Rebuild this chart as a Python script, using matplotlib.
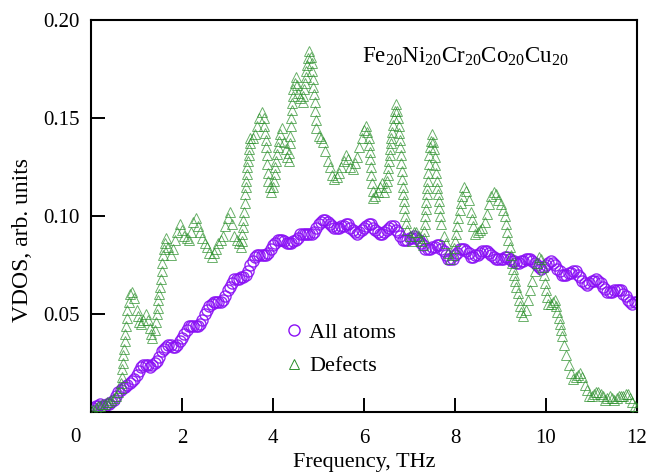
import numpy as np
import matplotlib
matplotlib.use("Agg")
import matplotlib.pyplot as plt

# ---------------- data ----------------
freq_step = 0.05
freq = np.round(np.arange(0, 12 + freq_step / 2, freq_step), 2)

all_atoms = [
    0.001, 0.002, 0.003, 0.003, 0.004, 0.003, 0.003, 0.004, 0.004, 0.005,
    0.006, 0.008, 0.010, 0.011, 0.012, 0.013, 0.014, 0.015, 0.016, 0.017,
    0.019, 0.021, 0.023, 0.024, 0.024, 0.024, 0.023, 0.024, 0.025, 0.026,
    0.028, 0.031, 0.032, 0.033, 0.034, 0.034, 0.033, 0.033, 0.034, 0.036,
    0.038, 0.040, 0.042, 0.044, 0.044, 0.044, 0.044, 0.044, 0.045, 0.047,
    0.050, 0.052, 0.054, 0.055, 0.056, 0.056, 0.056, 0.056, 0.057, 0.059,
    0.062, 0.064, 0.066, 0.068, 0.068, 0.068, 0.069, 0.069, 0.070, 0.072,
    0.075, 0.077, 0.079, 0.080, 0.080, 0.080, 0.080, 0.080, 0.081, 0.083,
    0.085, 0.086, 0.088, 0.088, 0.088, 0.087, 0.086, 0.086, 0.086, 0.087,
    0.088, 0.089, 0.091, 0.091, 0.091, 0.091, 0.091, 0.091, 0.092, 0.094,
    0.096, 0.097, 0.098, 0.098, 0.097, 0.096, 0.095, 0.094, 0.094, 0.094,
    0.095, 0.095, 0.096, 0.096, 0.094, 0.093, 0.092, 0.091, 0.092, 0.093,
    0.094, 0.095, 0.096, 0.096, 0.094, 0.093, 0.092, 0.091, 0.091, 0.092,
    0.093, 0.094, 0.095, 0.095, 0.093, 0.092, 0.090, 0.088, 0.088, 0.088,
    0.089, 0.089, 0.090, 0.089, 0.088, 0.086, 0.085, 0.083, 0.083, 0.083,
    0.084, 0.084, 0.085, 0.085, 0.083, 0.082, 0.080, 0.078, 0.078, 0.078,
    0.080, 0.081, 0.083, 0.083, 0.083, 0.082, 0.081, 0.079, 0.079, 0.080,
    0.080, 0.081, 0.082, 0.082, 0.082, 0.081, 0.080, 0.079, 0.078, 0.078,
    0.078, 0.078, 0.079, 0.079, 0.078, 0.077, 0.077, 0.076, 0.076, 0.077,
    0.077, 0.078, 0.078, 0.078, 0.077, 0.076, 0.075, 0.074, 0.073, 0.074,
    0.075, 0.076, 0.077, 0.076, 0.075, 0.073, 0.072, 0.070, 0.070, 0.070,
    0.071, 0.071, 0.072, 0.072, 0.070, 0.069, 0.067, 0.066, 0.065, 0.066,
    0.067, 0.067, 0.068, 0.067, 0.066, 0.064, 0.063, 0.061, 0.061, 0.061,
    0.062, 0.062, 0.062, 0.062, 0.060, 0.059, 0.057, 0.056, 0.055, 0.056,
    0.056,
]

# Defects on the regular 0.05 THz grid
defects = [
    0.001, 0.001, 0.002, 0.003, 0.003, 0.004, 0.004, 0.005, 0.005, 0.006,
    0.007, 0.008, 0.010, 0.012, 0.025, 0.040, 0.052, 0.060, 0.061, 0.058,
    0.052, 0.046, 0.045, 0.047, 0.050, 0.047, 0.043, 0.038, 0.042, 0.050,
    0.060, 0.072, 0.083, 0.089, 0.084, 0.080, 0.083, 0.088, 0.092, 0.096,
    0.093, 0.090, 0.089, 0.088, 0.092, 0.097, 0.099, 0.095, 0.092, 0.089,
    0.086, 0.084, 0.081, 0.079, 0.081, 0.083, 0.086, 0.088, 0.090, 0.095,
    0.099, 0.102, 0.096, 0.090, 0.088, 0.086, 0.084, 0.098, 0.115, 0.128,
    0.140, 0.140, 0.142, 0.146, 0.150, 0.153, 0.150, 0.135, 0.118, 0.112,
    0.115, 0.125, 0.135, 0.142, 0.145, 0.138, 0.130, 0.128, 0.150, 0.165,
    0.171, 0.163, 0.160, 0.158, 0.168, 0.177, 0.184, 0.178, 0.162, 0.145,
    0.141, 0.140, 0.138, 0.133, 0.128, 0.125, 0.121, 0.119, 0.120, 0.122,
    0.125, 0.128, 0.131, 0.129, 0.125, 0.124, 0.127, 0.130, 0.135, 0.140,
    0.144, 0.146, 0.140, 0.125, 0.109, 0.110, 0.112, 0.115, 0.117, 0.112,
    0.118, 0.128, 0.140, 0.150, 0.157, 0.150, 0.135, 0.115, 0.100, 0.093,
    0.090, 0.087, 0.092, 0.092, 0.090, 0.087, 0.085, 0.100, 0.118, 0.135,
    0.142, 0.130, 0.118, 0.104, 0.096, 0.090, 0.086, 0.081, 0.078, 0.080,
    0.087, 0.095, 0.103, 0.110, 0.115, 0.113, 0.108, 0.102, 0.095, 0.091,
    0.092, 0.093, 0.094, 0.097, 0.101, 0.106, 0.110, 0.112, 0.111, 0.108,
    0.106, 0.103, 0.100, 0.092, 0.084, 0.076, 0.070, 0.064, 0.057, 0.051,
    0.049, 0.052, 0.057, 0.062, 0.067, 0.072, 0.076, 0.079, 0.078, 0.070,
    0.062, 0.055, 0.055, 0.056, 0.057, 0.051, 0.045, 0.039, 0.034, 0.029,
    0.024, 0.020, 0.017, 0.018, 0.019, 0.020, 0.018, 0.014, 0.011, 0.008,
    0.008, 0.009, 0.010, 0.010, 0.009, 0.008, 0.006, 0.007, 0.008, 0.007,
    0.006, 0.007, 0.008, 0.008, 0.008, 0.009, 0.009, 0.007, 0.005, 0.003,
    0.002,
]

# Extra Defects points read along the steep flanks (columns of triangles)
flank_freq = [
    0.6625, 0.675, 0.6875, 0.7125, 0.725, 0.7375, 0.767, 0.783, 0.825,
    1.025, 1.325, 1.425, 1.467, 1.483, 1.517, 1.533, 1.567, 1.583, 1.625,
    3.3125, 3.325, 3.3375, 3.3625, 3.375, 3.3875, 3.4125, 3.425, 3.4375,
    3.4625, 3.475, 3.4875, 3.8125, 3.825, 3.8375, 3.8625, 3.875, 3.8875, 3.925,
    4.017, 4.033, 4.067, 4.083, 4.125, 4.275, 4.36, 4.37, 4.38, 4.39,
    4.4125, 4.425, 4.4375, 4.475, 4.525, 4.667, 4.683, 4.717, 4.733, 4.775,
    4.825, 4.8625, 4.875, 4.8875, 4.9125, 4.925, 4.9375,
    6.075, 6.1125, 6.125, 6.1375, 6.1625, 6.175, 6.1875, 6.475, 6.517, 6.533,
    6.5625, 6.575, 6.5875, 6.617, 6.633, 6.675, 6.725, 6.7625, 6.775, 6.7875,
    6.81, 6.82, 6.83, 6.84, 6.8625, 6.875, 6.8875, 6.925,
    7.3125, 7.325, 7.3375, 7.36, 7.37, 7.38, 7.39, 7.4125, 7.425, 7.4375,
    7.475, 7.517, 7.533, 7.567, 7.583, 7.6125, 7.625, 7.6375, 7.675,
    7.975, 8.025, 8.075, 8.125, 8.375,
    9.125, 9.175, 9.225, 9.275, 9.325, 9.375, 9.425,
    9.925, 9.975, 10.025, 10.225, 10.275, 10.325,
]
flank_vdos = [
    0.015, 0.018, 0.022, 0.029, 0.032, 0.036, 0.044, 0.048, 0.056,
    0.049, 0.040, 0.046, 0.053, 0.057, 0.064, 0.068, 0.076, 0.080, 0.086,
    0.0875, 0.091, 0.0945, 0.102, 0.1065, 0.111, 0.118, 0.1215, 0.125,
    0.131, 0.134, 0.137, 0.146, 0.1425, 0.139, 0.131, 0.1265, 0.122, 0.115,
    0.118, 0.1215, 0.128, 0.1315, 0.1385, 0.134, 0.132, 0.137, 0.141, 0.146,
    0.154, 0.1575, 0.161, 0.168, 0.167, 0.161, 0.165, 0.171, 0.174, 0.1805,
    0.181, 0.174, 0.170, 0.166, 0.158, 0.1535, 0.149,
    0.143, 0.136, 0.1325, 0.129, 0.121, 0.117, 0.113, 0.115, 0.121, 0.1245,
    0.131, 0.134, 0.137, 0.143, 0.1465, 0.1535, 0.1535, 0.146, 0.1425, 0.139,
    0.131, 0.127, 0.123, 0.119, 0.111, 0.1075, 0.104, 0.0965,
    0.089, 0.0925, 0.096, 0.1035, 0.107, 0.111, 0.1145, 0.122, 0.1265, 0.131,
    0.1385, 0.138, 0.134, 0.126, 0.122, 0.1145, 0.111, 0.1075, 0.100,
    0.0835, 0.091, 0.099, 0.1065, 0.0985,
    0.096, 0.088, 0.080, 0.073, 0.067, 0.0605, 0.054,
    0.074, 0.066, 0.0585, 0.054, 0.048, 0.042,
]

x_ticks = [0, 2, 4, 6, 8, 10, 12]
y_ticks = [0.05, 0.10, 0.15, 0.20]
y_tick_labels = ["0.05", "0.10", "0.15", "0.20"]
series_labels = ["All atoms", "Defects"]
title_text = r"$\mathregular{Fe_{20}Ni_{20}Cr_{20}Co_{20}Cu_{20}}$"

# ---------------- style ----------------
plt.rcParams["font.family"] = ["Liberation Serif", "DejaVu Serif"]
plt.rcParams["mathtext.fontset"] = "custom"
plt.rcParams["mathtext.rm"] = "Liberation Serif"

purple = "#8a10f5"
green = "#2a8f2a"

fig = plt.figure(figsize=(6.6, 4.72), dpi=100)
ax = fig.add_axes([91 / 660, 1 - 412 / 472, (637 - 91) / 660, (412 - 20) / 472])

def_freq = np.concatenate([freq, flank_freq])
def_vdos = np.concatenate([defects, flank_vdos])

ax.plot(freq, all_atoms, linestyle="none", marker="o", markersize=8,
        markerfacecolor="none", markeredgecolor=purple, markeredgewidth=1.0,
        alpha=0.9, label=series_labels[0], zorder=2)
ax.plot(def_freq, def_vdos, linestyle="none", marker="^", markersize=7.5,
        markerfacecolor="none", markeredgecolor=green, markeredgewidth=0.7,
        alpha=0.7, label=series_labels[1], zorder=3)

ax.set_xlim(0, 12)
ax.set_ylim(0, 0.20)
ax.set_xticks(x_ticks)
ax.set_xticklabels([""] + [str(t) for t in x_ticks[1:]])
ax.text(-0.35, -0.0128, str(x_ticks[0]), ha="center", va="center", fontsize=15,
        transform=ax.transData, clip_on=False)
ax.set_yticks(y_ticks)
ax.set_yticklabels(y_tick_labels)

ax.tick_params(axis="both", direction="in", length=10, width=1.4, labelsize=15)
ax.tick_params(axis="x", pad=12)
ax.tick_params(axis="y", pad=8)
for s in ax.spines.values():
    s.set_linewidth(1.5)

ax.set_xlabel("Frequency, THz", fontsize=16, labelpad=4)
ax.set_ylabel("VDOS, arb. units", fontsize=17)
ax.yaxis.set_label_coords(-0.106, 0.44)

ax.text(0.496, 0.906, title_text, transform=ax.transAxes, fontsize=16.5,
        ha="left", va="center")

leg = ax.legend(loc="upper left", bbox_to_anchor=(0.332, 0.258), frameon=False,
                fontsize=16, handlelength=1.0, handletextpad=0.15,
                labelspacing=0.6, borderpad=0, markerscale=1.0)
for h in leg.legend_handles:
    h.set_alpha(1)

fig.savefig("out.png", dpi=100)
